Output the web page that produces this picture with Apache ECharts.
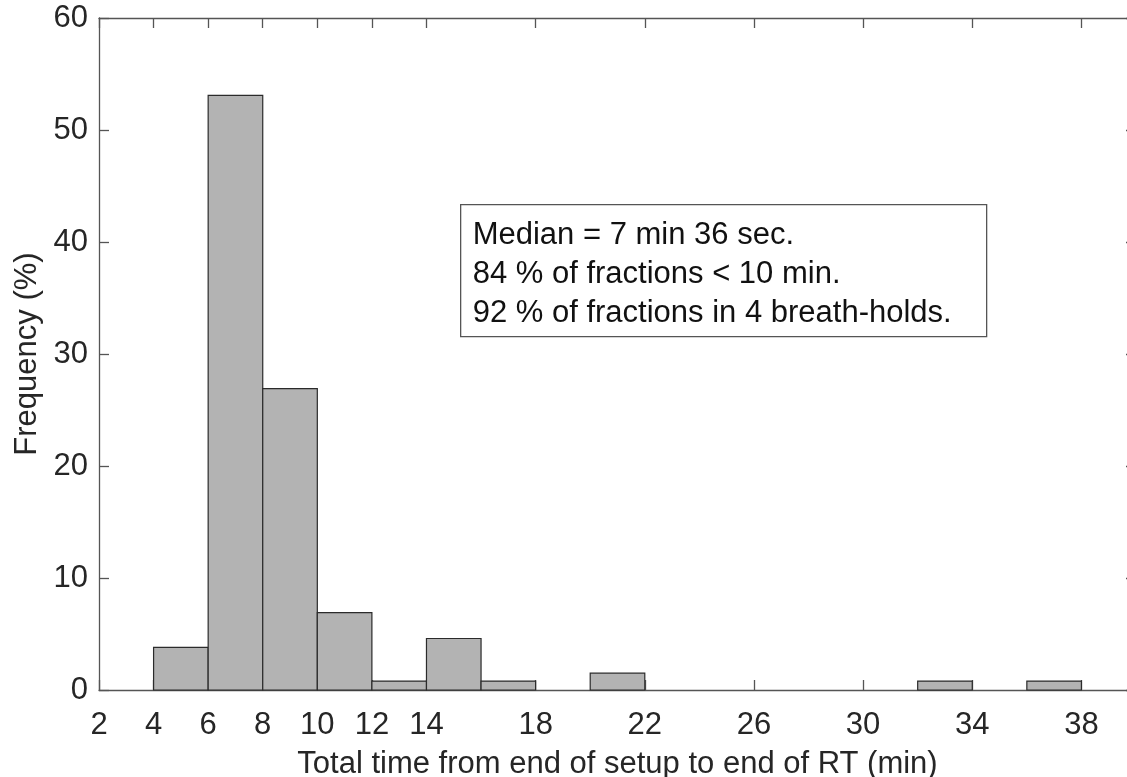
<!DOCTYPE html>
<html lang="en" style="height: 100%">
<head>
  <meta charset="utf-8">
</head>
<body style="height: 100%; margin: 0; background: #fff">
  <div id="container" style="height: 100%"></div>

  <script type="text/javascript" src="https://fastly.jsdelivr.net/npm/echarts@6/dist/echarts.min.js"></script>

  <script type="text/javascript">
    // histogram bins (minutes) and frequency (%)
    var binStarts = [4, 6, 8, 10, 12, 14, 16, 18, 20, 22, 24, 26, 28, 30, 32, 34, 36];
    var binEnds = [6, 8, 10, 12, 14, 16, 18, 20, 22, 24, 26, 28, 30, 32, 34, 36, 38];
    var frequencies = [3.8, 53.1, 26.9, 6.9, 0.8, 4.6, 0.8, 0, 1.5, 0, 0, 0, 0, 0, 0.8, 0, 0.8];
    var xTicks = [2, 4, 6, 8, 10, 12, 14, 18, 22, 26, 30, 34, 38];
    var noteLines = [
      'Median = 7 min 36 sec.',
      '84 % of fractions < 10 min.',
      '92 % of fractions in 4 breath-holds.'
    ];

    var FONT = '"Liberation Sans", Arial, sans-serif';
    var AXIS_COLOR = '#555';
    var TEXT_COLOR = '#262626';

    var dom = document.getElementById('container');
    var myChart = echarts.init(dom, null, { renderer: 'canvas' });

    var histData = [];
    for (var i = 0; i < frequencies.length; i++) {
      histData.push([binStarts[i], binEnds[i], frequencies[i]]);
    }

    function xAxisBase(pos, showLabel) {
      return {
        type: 'value',
        position: pos,
        min: 2,
        max: 40,
        interval: 2,
        splitLine: { show: false },
        axisLine: { show: true, onZero: false, lineStyle: { color: AXIS_COLOR, width: 1.3 } },
        axisTick: {
          show: true, inside: true, length: 10,
          customValues: xTicks,
          lineStyle: { color: AXIS_COLOR, width: 1.3 }
        },
        axisLabel: {
          show: showLabel,
          customValues: xTicks,
          margin: 20,
          fontSize: 31,
          fontFamily: FONT,
          color: TEXT_COLOR
        }
      };
    }

    function yAxisBase(pos, showLabel) {
      return {
        type: 'value',
        position: pos,
        min: 0,
        max: 60,
        interval: 10,
        splitLine: { show: false },
        axisLine: { show: true, onZero: false, lineStyle: { color: AXIS_COLOR, width: 1.3 } },
        axisTick: {
          show: true, inside: true, length: 10,
          lineStyle: { color: AXIS_COLOR, width: 1.3 }
        },
        axisLabel: {
          show: showLabel,
          margin: 11,
          fontSize: 31,
          fontFamily: FONT,
          color: TEXT_COLOR
        }
      };
    }

    var xBottom = xAxisBase('bottom', true);
    xBottom.name = 'Total time from end of setup to end of RT (min)';
    xBottom.nameLocation = 'middle';
    xBottom.nameGap = 59;
    xBottom.nameTextStyle = { fontSize: 31, fontFamily: FONT, color: TEXT_COLOR };

    var yLeft = yAxisBase('left', true);
    yLeft.name = 'Frequency (%)';
    yLeft.nameLocation = 'middle';
    yLeft.nameGap = 44;
    yLeft.nameTextStyle = { fontSize: 31, fontFamily: FONT, color: TEXT_COLOR };

    var option = {
      animation: false,
      backgroundColor: '#fff',
      // the frame runs a little past the right edge of the picture
      grid: {
        left: 99, width: 1037, top: 18, height: 672,
        containLabel: false, outerBoundsMode: 'none'
      },
      xAxis: [xBottom, xAxisBase('top', false)],
      yAxis: [yLeft, yAxisBase('right', false)],
      series: [{
        type: 'custom',
        xAxisIndex: 0,
        yAxisIndex: 0,
        data: histData,
        encode: { x: [0, 1], y: 2 },
        renderItem: function (params, api) {
          var v = api.value(2);
          if (!v) return null;
          var p0 = api.coord([api.value(0), v]);
          var p1 = api.coord([api.value(1), 0]);
          return {
            type: 'rect',
            shape: { x: p0[0], y: p0[1], width: p1[0] - p0[0], height: p1[1] - p0[1] },
            style: { fill: '#b3b3b3', stroke: '#2b2b2b', lineWidth: 1.2 }
          };
        }
      }],
      graphic: [{
        type: 'group',
        left: 460,
        top: 204,
        children: [{
          type: 'rect',
          shape: { x: 0, y: 0, width: 526, height: 132 },
          style: { fill: '#fff', stroke: '#555', lineWidth: 1.3 }
        }, {
          type: 'text',
          x: 12,
          y: 11,
          style: {
            text: noteLines.join('\n'),
            font: '31px ' + FONT,
            lineHeight: 39,
            fill: '#111'
          }
        }]
      }]
    };

    myChart.setOption(option);
    window.addEventListener('resize', myChart.resize);
  </script>
</body>
</html>
